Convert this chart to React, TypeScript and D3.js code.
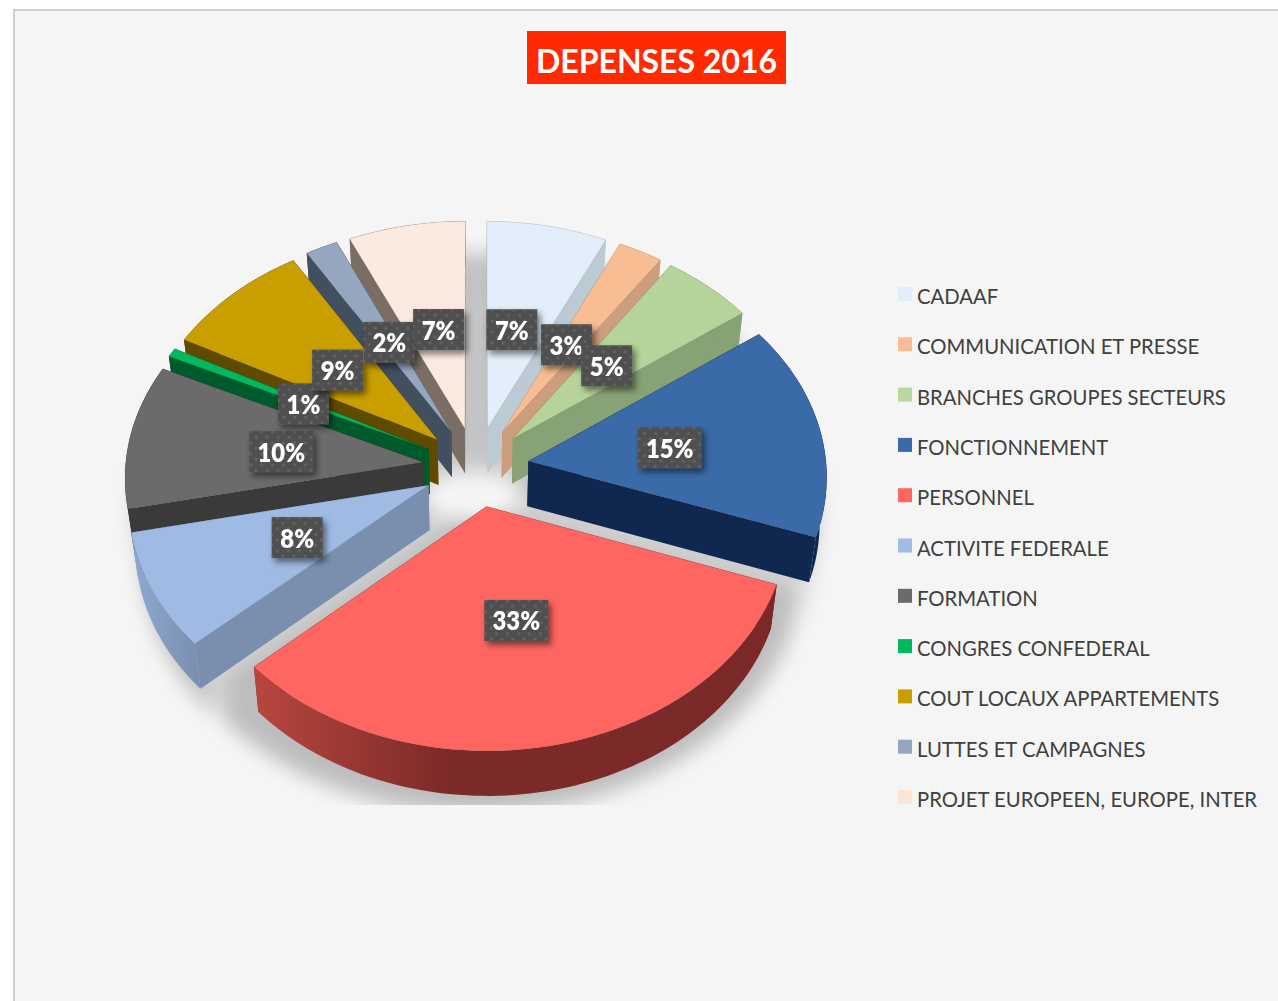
import * as d3 from "d3";

const title = "DEPENSES 2016";

const categories = [
  "CADAAF",
  "COMMUNICATION ET PRESSE",
  "BRANCHES GROUPES SECTEURS",
  "FONCTIONNEMENT",
  "PERSONNEL",
  "ACTIVITE FEDERALE",
  "FORMATION",
  "CONGRES CONFEDERAL",
  "COUT LOCAUX APPARTEMENTS",
  "LUTTES ET CAMPAGNES",
  "PROJET EUROPEEN, EUROPE, INTER",
];
// the labels only show them rounded
const values = [7, 2.6, 5.4, 15.4, 32.9, 8.4, 10.35, 0.65, 8.6, 1.9, 6.8];

const topColors = ["#e2eefa", "#f8bd93", "#b5d39a", "#3a6aa8", "#ff6661", "#9fbae3", "#6b6b6b", "#00b860", "#c99f00", "#94a7bf", "#fbeadf"];
const wallColors = ["#bccbd3", "#cd9e7c", "#87a275", "#10274f", "#7a2928", "#7a8fae", "#3a3a3a", "#005a2b", "#5f4b00", "#424f5e", "#7a6e64"];
const legendColors = ["#e2eefa", "#f8bd93", "#b9d79e", "#3a6aa8", "#ff6661", "#a0bbe4", "#6b6b6b", "#00b860", "#c99f00", "#94a7bf", "#fbe5d6"];

const width = 1278;
const height = 1001;

// ground plane -> screen, pie lies flat and is seen in perspective
const cx = 476;
const cy = 467;
const tilt = 0.753;
const persp = 0.000205;
const radius = 298;
const explode = 53;
const depth = 45;
const bottomShrink = 0.98; // underside is further away, so a little narrower
const labelRadius = 197;

const project = (u: number, v: number): [number, number] => {
  const g = 1 / (1 - persp * v);
  return [cx + u * g, cy + tilt * v * g];
};

const polar = (a: number, r: number): [number, number] => [r * Math.sin(a), -r * Math.cos(a)];

const arcs = d3.pie<number>().sort(null).value((d) => d)(values);
const line = d3.line();

function geometry(d: d3.PieArcDatum<number>, exp: number, rad: number) {
  const mid = (d.startAngle + d.endAngle) / 2;
  const [ox, oy] = polar(mid, exp);
  const apex = project(ox, oy);
  const steps = Math.max(4, Math.ceil((d.endAngle - d.startAngle) * 40));
  const outer = d3.range(steps + 1).map((i) => {
    const [x, y] = polar(d.startAngle + ((d.endAngle - d.startAngle) * i) / steps, rad);
    return project(ox + x, oy + y);
  });
  return { mid, apex, outer };
}

const down = (pts: [number, number][]) =>
  pts.map(([x, y]) => [cx + (x - cx) * bottomShrink, y + depth] as [number, number]);
const wall = (pts: [number, number][]) => line([...pts, ...down(pts).reverse()]) + "Z";

function faces(d: d3.PieArcDatum<number>, exp: number, rad: number) {
  const { apex, outer } = geometry(d, exp, rad);
  const first = outer[0];
  const last = outer[outer.length - 1];
  return {
    cutA: wall([apex, first]),
    cutB: wall([apex, last]),
    rim: wall(outer),
    top: line([apex, ...outer]) + "Z",
  };
}

// far slices first so that the near ones paint over them
const drawOrder = d3.range(values.length).sort((a, b) => {
  const ma = (arcs[a].startAngle + arcs[a].endAngle) / 2;
  const mb = (arcs[b].startAngle + arcs[b].endAngle) / 2;
  return d3.descending(Math.cos(ma), Math.cos(mb));
});

const rowY = d3.scalePoint<string>().domain(categories).range([296, 799]);

const rimFill = (i: number) => {
  if (i === 4) return "url(#rimRed)";
  if (i === 5) return "url(#rimBlue)";
  return wallColors[i];
};

function Label({ d, i }: { d: d3.PieArcDatum<number>; i: number }) {
  const mid = (d.startAngle + d.endAngle) / 2;
  const [u, v] = polar(mid, labelRadius);
  // labels near the top sit a bit closer to the middle
  const far = mid < Math.PI / 2 || mid > (3 * Math.PI) / 2;
  const pull = far ? (u > 0 ? 6 : 3) * Math.cos(mid) ** 2 : 0;
  const [x, y] = project(u - Math.sign(u) * pull, v);
  const text = `${Math.round(values[i])}%`;
  const w = text.length > 2 ? 64 : 51;
  const h = 41;
  return (
    <g transform={`translate(${x},${y + 2})`}>
      <rect x={-w / 2} y={-h / 2} width={w} height={h} fill="#505050" filter="url(#labelShadow)" />
      <rect x={-w / 2} y={-h / 2} width={w} height={h} fill="url(#dots)" />
      <text transform="translate(0,10) scale(0.9,1)" textAnchor="middle" fontSize={26.5} fontWeight={800} fill="#ffffff">
        {text}
      </text>
    </g>
  );
}

export default function App() {
  return (
    <svg
      width={width}
      height={height}
      style={{ position: "absolute", left: 0, top: 0, display: "block", fontFamily: "Lato, sans-serif" }}
    >
      <defs>
        <pattern id="dots" width={11} height={11} patternUnits="userSpaceOnUse">
          <rect x={1} y={1} width={2.5} height={2.5} fill="#676767" />
          <rect x={6.5} y={6.5} width={2.5} height={2.5} fill="#676767" />
        </pattern>
        <filter id="labelShadow" x="-30%" y="-30%" width="170%" height="170%">
          <feDropShadow dx={3} dy={4} stdDeviation={3} floodColor="#000" floodOpacity={0.5} />
        </filter>
        <filter id="pieShadow" x="-15%" y="-15%" width="130%" height="130%">
          <feGaussianBlur stdDeviation={10} />
        </filter>
        <linearGradient id="rimRed" x1="0" x2="1" y1="0" y2="0">
          <stop offset="0" stopColor="#b8463f" />
          <stop offset="0.36" stopColor="#7d2b28" />
          <stop offset="1" stopColor="#7a2928" />
        </linearGradient>
        <linearGradient id="rimBlue" x1="0" x2="1" y1="0" y2="0">
          <stop offset="0" stopColor="#8ea9d2" />
          <stop offset="1" stopColor="#7a8fae" />
        </linearGradient>
        <clipPath id="shadowClip">
          <rect x={112} y={0} width={726} height={805} />
        </clipPath>
        {/* light spot in the middle of the shadow */}
        <mask id="shadowHole" maskUnits="userSpaceOnUse" x={0} y={0} width={width} height={height}>
          <rect width={width} height={height} fill="#fff" />
          <ellipse cx={cx - 4} cy={cy + 29} rx={50} ry={25} fill="#000" />
        </mask>
      </defs>

      <rect width={width} height={height} fill="#ffffff" />
      <rect x={14} y={10} width={width} height={height} fill="#f5f5f5" stroke="#d0d0d0" strokeWidth={2} />

      <rect x={527} y={31} width={259} height={53} fill="#ff2a00" />
      <text transform="translate(656.5,73) scale(0.97,1)" textAnchor="middle" fontSize={33} fontWeight={700} fill="#ffffff">
        {title}
      </text>

      <g clipPath="url(#shadowClip)">
        <g filter="url(#pieShadow)" opacity={0.23}>
          <g mask="url(#shadowHole)">
            {arcs.map((d, i) => {
              const f = faces(d, 8, radius + 34);
              return (
                <g key={i} transform="translate(0,26)" fill="#000">
                  <path d={f.rim} />
                  <path d={f.top} />
                </g>
              );
            })}
          </g>
        </g>
      </g>

      {drawOrder.map((i) => {
        const f = faces(arcs[i], explode, radius);
        return (
          <g key={i}>
            <path d={f.cutA} fill={wallColors[i]} />
            <path d={f.cutB} fill={wallColors[i]} />
            <path d={f.rim} fill={rimFill(i)} />
            <path d={f.top} fill={topColors[i]} stroke="rgba(0,0,0,0.18)" strokeWidth={0.5} />
          </g>
        );
      })}

      {arcs.map((d, i) => (
        <Label key={i} d={d} i={i} />
      ))}

      {categories.map((c, i) => (
        <g key={c} transform={`translate(0,${rowY(c)})`}>
          <rect x={898} y={-9} width={14} height={14} fill={legendColors[i]} />
          <text transform="translate(917,8) scale(0.944,1)" fontSize={21.5} fill="#404040">
            {c}
          </text>
        </g>
      ))}
    </svg>
  );
}
